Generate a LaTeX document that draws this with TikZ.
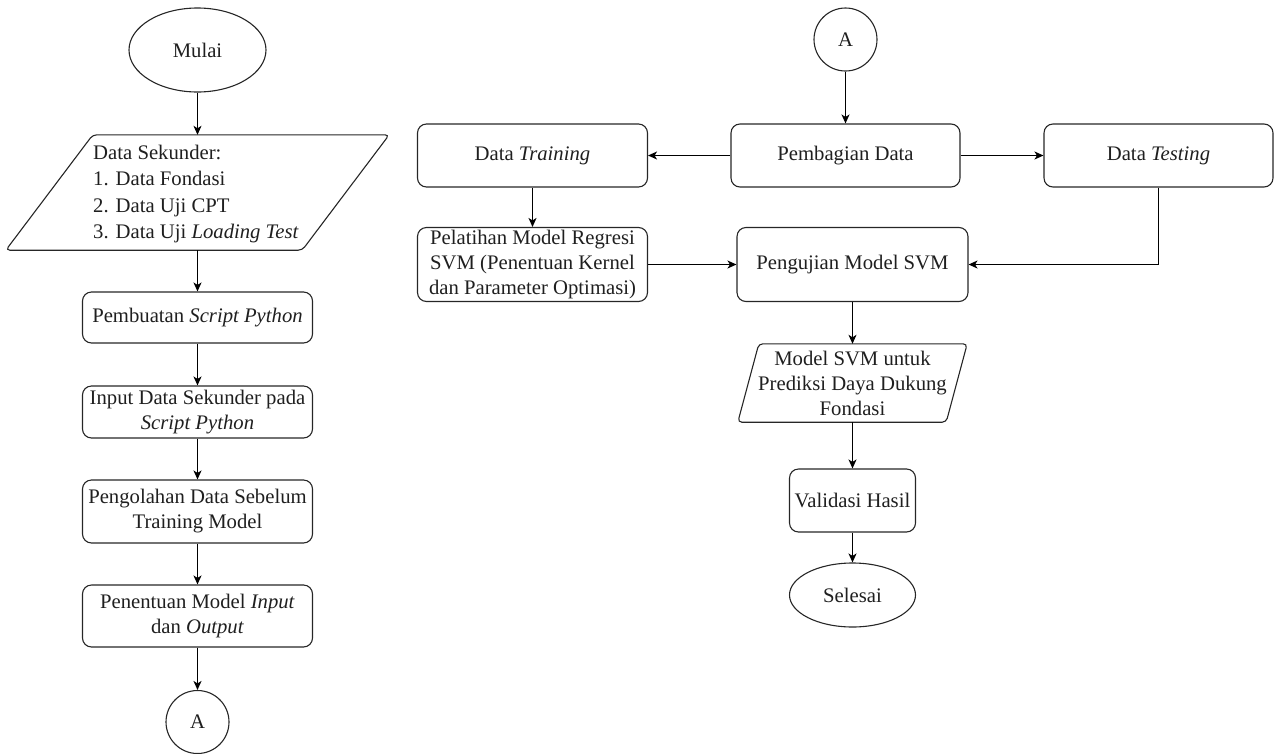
\documentclass[tikz,border=0pt]{standalone}
\usepackage{fontspec}
\setmainfont{Liberation Serif}
\usetikzlibrary{shapes.geometric,arrows.meta,calc}
\newcommand{\fs}{\fontsize{20.7}{25}\selectfont}
\begin{document}
\begin{tikzpicture}[x=1pt,y=-1pt,
  every node/.style={font=\fs, text=black!88},
  box/.style={draw=black!85, rounded corners=9pt, line width=1.1pt, align=center, inner sep=2pt},
  term/.style={ellipse, draw=black!85, line width=1.1pt, inner sep=0pt},
  circ/.style={circle, draw=black!85, line width=1.1pt, minimum size=63pt, inner sep=0pt},
  ghost/.style={draw=none, inner sep=0pt, align=center},
  para/.style={draw=black!85, line width=1.1pt, rounded corners=4pt},
  arr/.style={-{Stealth[length=9pt,width=8pt,inset=2.5pt]}, line width=1.1pt, draw=black}
]
\useasboundingbox (0,0) rectangle (1274,753);

% ---------- left column ----------
\node[term, minimum width=137pt, minimum height=84pt] (mulai) at (197.5,50) {Mulai};

\node[ghost, minimum width=383pt, minimum height=115pt] (sek) at (197.5,192.5) {};
\draw[para] (sek.south west) -- ($(sek.north west)+(87,0)$) -- (sek.north east)
  -- ($(sek.south east)+(-87,0)$) -- cycle;
\node[ghost, align=left, font=\fontsize{20.7}{26.5}\selectfont] (sektext) at (196,194)
  {Data Sekunder:\\1. Data Fondasi\\2. Data Uji CPT\\3. Data Uji \textit{Loading Test}};

\node[box, minimum width=230pt, minimum height=51pt] (skr) at (197.5,317.5)
  {Pembuatan \textit{Script Python}};
\node[box, minimum width=230pt, minimum height=52pt] (inp) at (197.5,412)
  {Input Data Sekunder pada\\\textit{Script Python}};
\node[box, minimum width=230pt, minimum height=63pt] (olah) at (197.5,511.5)
  {Pengolahan Data Sebelum\\Training Model};
\node[box, minimum width=230pt, minimum height=62pt] (tentu) at (197.5,616)
  {Penentuan Model \textit{Input}\\dan \textit{Output}};
\node[circ] (a1) at (197.5,722) {A};

\draw[arr] (mulai) -- (sek.north);
\draw[arr] (sek.south) -- (skr);
\draw[arr] (skr) -- (inp);
\draw[arr] (inp) -- (olah);
\draw[arr] (olah) -- (tentu);
\draw[arr] (tentu) -- (a1);

% ---------- right part ----------
\node[circ] (a2) at (845.5,39.5) {A};
\node[box, minimum width=229pt, minimum height=63pt] (bagi) at (845.5,155.5) {Pembagian Data};
\node[box, minimum width=230pt, minimum height=63pt] (train) at (532.5,155.5) {Data \textit{Training}};
\node[box, minimum width=229pt, minimum height=63pt] (test) at (1158.5,155.5) {Data \textit{Testing}};
\node[box, minimum width=230pt, minimum height=74pt] (latih) at (532.5,264.5)
  {Pelatihan Model Regresi\\SVM (Penentuan Kernel\\dan Parameter Optimasi)};
\node[box, minimum width=231pt, minimum height=74pt] (uji) at (852.5,264.5) {Pengujian Model SVM};

\node[ghost, minimum width=229pt, minimum height=78pt] (model) at (852.5,383)
  {Model SVM untuk\\Prediksi Daya Dukung\\Fondasi};
\draw[para] (model.south west) -- ($(model.north west)+(21,0)$) -- (model.north east)
  -- ($(model.south east)+(-21,0)$) -- cycle;

\node[box, minimum width=126pt, minimum height=63pt] (valid) at (852.5,500.5) {Validasi Hasil};
\node[term, minimum width=126pt, minimum height=64pt] (selesai) at (852.5,595) {Selesai};

\draw[arr] (a2) -- (bagi);
\draw[arr] (bagi) -- (train);
\draw[arr] (bagi) -- (test);
\draw[arr] (train) -- (latih);
\draw[arr] (latih) -- (uji);
\draw[arr] (test.south) |- (uji.east);
\draw[arr] (uji) -- (model.north);
\draw[arr] (model.south) -- (valid);
\draw[arr] (valid) -- (selesai);
\end{tikzpicture}
\end{document}
